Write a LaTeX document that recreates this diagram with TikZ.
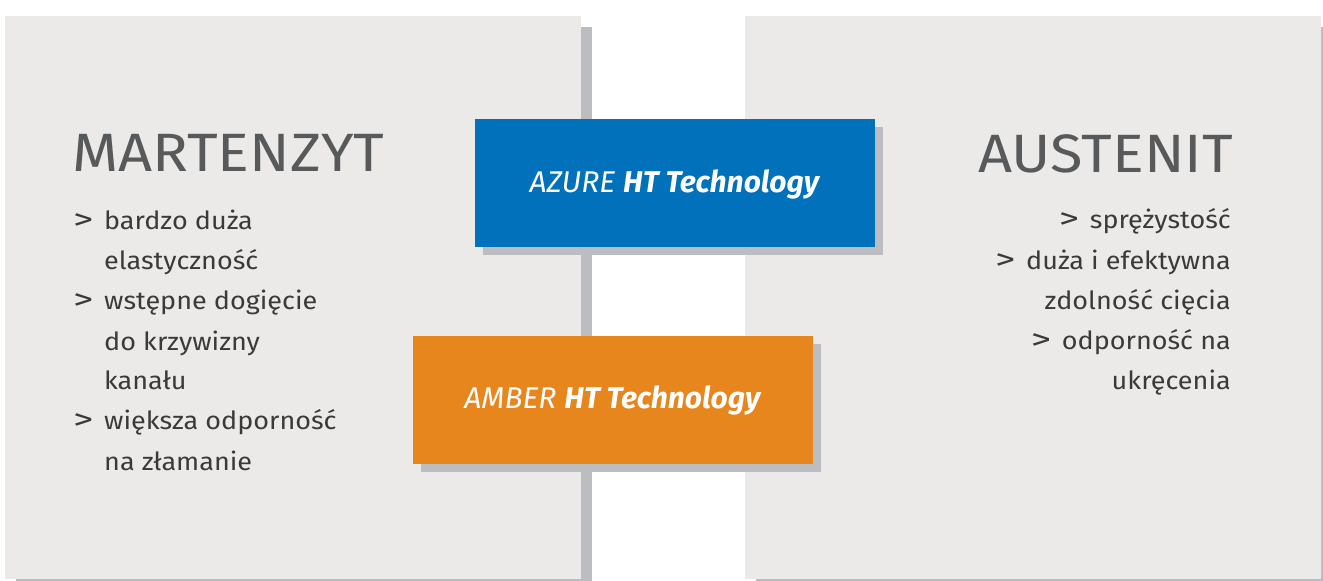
\documentclass[tikz,border=0pt]{standalone}
\usepackage{fontspec}
\usepackage{graphicx}
\setmainfont{Fira Sans}
\newfontfamily\widefont[FakeStretch=1.1]{Fira Sans}
\newfontfamily\bodyfont[FakeStretch=1.08]{Fira Sans}
\definecolor{panel}{HTML}{EBEAE8}
\definecolor{shade}{HTML}{BCBDC0}
\definecolor{azure}{HTML}{0071BA}
\definecolor{amber}{HTML}{E8861E}
\definecolor{headc}{HTML}{58595B}
\definecolor{bodyc}{HTML}{3A3A3A}
\tikzset{
  panelbox/.style={fill=panel, draw=none},
  shadebox/.style={fill=shade, draw=none},
  heading/.style={inner sep=0pt, text=headc, font=\widefont\fontsize{54}{54}\selectfont},
  bodyl/.style={inner sep=0pt, anchor=base west, text=bodyc, font=\bodyfont\fontsize{25}{25}\selectfont},
  bodyr/.style={inner sep=0pt, anchor=base east, text=bodyc, font=\bodyfont\fontsize{25}{25}\selectfont},
  techtext/.style={inner sep=0pt, text=white, font=\fontsize{30}{30}\selectfont}
}
\newcommand{\blt}{\makebox[31pt][l]{\scalebox{1.5}[1.15]{>}}}
\begin{document}
\begin{tikzpicture}[x=1pt,y=-1pt]
\useasboundingbox (0,0) rectangle (1323,581);
% panel shadows
\fill[shadebox] (16,27) rectangle (592,590);
\fill[shadebox] (756,27) rectangle (1332,590);
% panels
\fill[panelbox] (5,16) rectangle (581,579);
\fill[panelbox] (745,16) rectangle (1321,579);
% left text
\node[heading, anchor=base west] (mh) at (72,171) {MARTENZYT};
\node[bodyl] (l1) at (73,229) {\blt bardzo duża};
\node[bodyl] (l2) at (104,269) {elastyczność};
\node[bodyl] (l3) at (73,309) {\blt wstępne dogięcie};
\node[bodyl] (l4) at (104,350) {do krzywizny};
\node[bodyl] (l5) at (104,389) {kanału};
\node[bodyl] (l6) at (73,429) {\blt większa odporność};
\node[bodyl] (l7) at (104,470) {na złamanie};
% right text
\node[heading, anchor=base east] (ah) at (1233,172) {AUSTENIT};
\node[bodyr] (r1) at (1231,228) {\blt sprężystość};
\node[bodyr] (r2) at (1231,269) {\blt duża i efektywna};
\node[bodyr] (r3) at (1231,309) {zdolność cięcia};
\node[bodyr] (r4) at (1231,349) {\blt odporność na};
\node[bodyr] (r5) at (1231,389) {ukręcenia};
% box shadows
\fill[shadebox] (483,127) rectangle (883,255);
\fill[shadebox] (421,344) rectangle (821,472);
% boxes
\fill[azure] (475,119) rectangle (875,247);
\fill[amber] (413,336) rectangle (813,464);
\node[techtext, anchor=base] (az) at (675,192) {\textit{AZURE} \textbf{\textit{HT Technology}}};
\node[techtext, anchor=base] (am) at (613,408) {\textit{AMBER} \textbf{\textit{HT Technology}}};
\end{tikzpicture}
\end{document}
